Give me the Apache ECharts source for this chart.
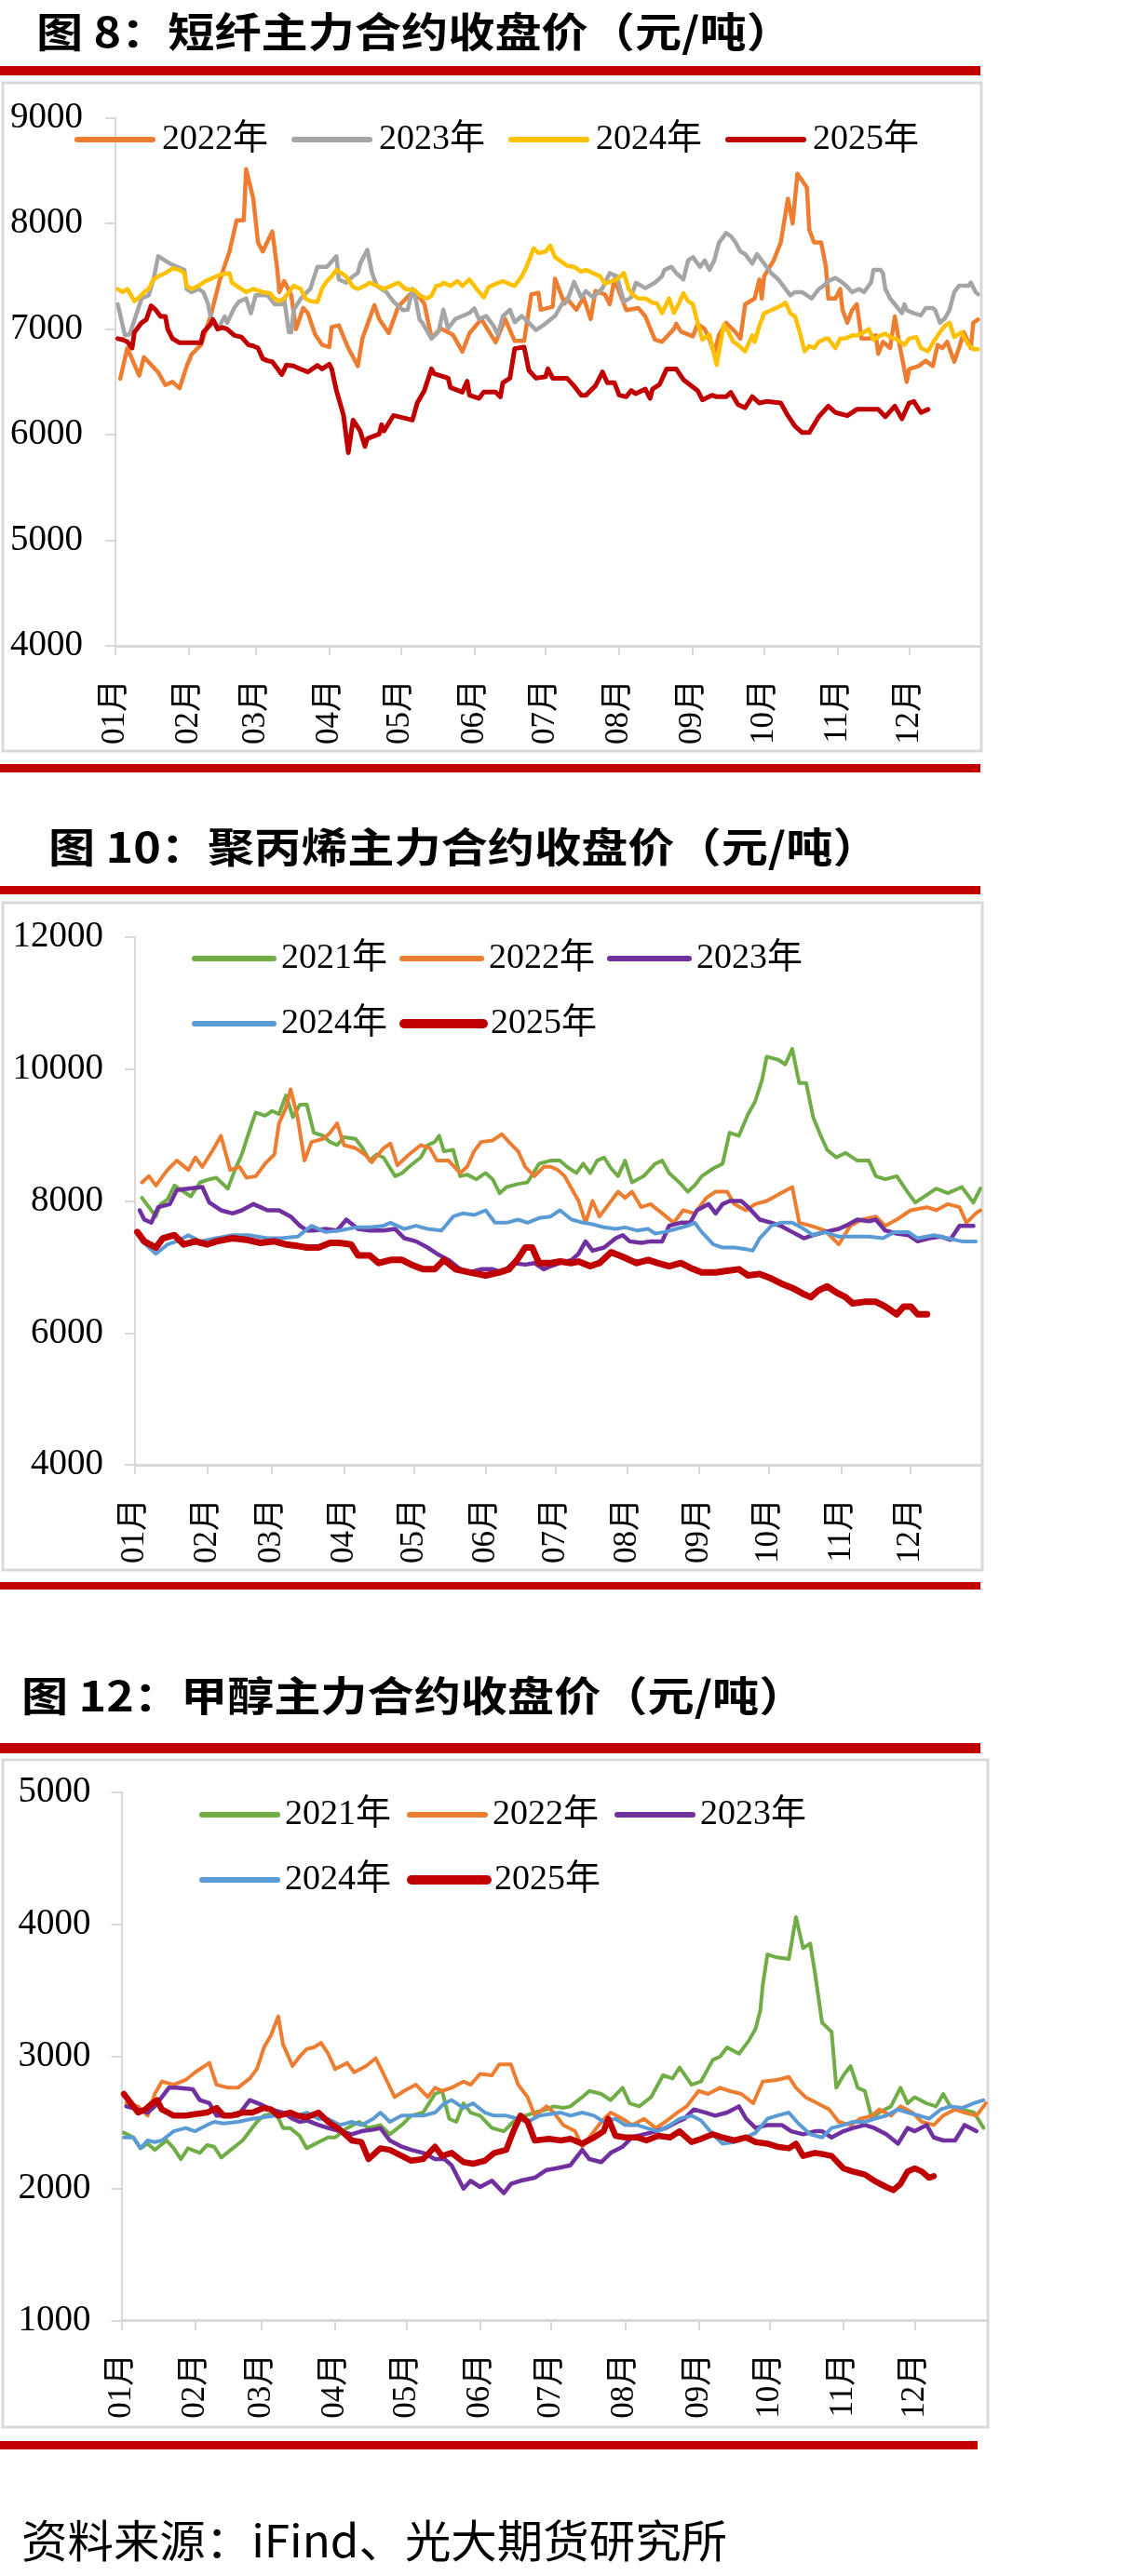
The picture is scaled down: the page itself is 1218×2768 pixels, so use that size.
<!DOCTYPE html>
<html>
<head>
<meta charset="utf-8">
<script src="https://cdn.jsdelivr.net/npm/echarts@6/dist/echarts.min.js"></script>
<style>
  html, body { margin: 0; padding: 0; background: #fff; }
  #page { width: 1218px; height: 2768px; }
</style>
</head>
<body>
<div id="page"></div>
<script>
// 月份（x轴按日排列，只在每月1日标注）
const monthNames = ['01', '02', '03', '04', '05', '06', '07', '08', '09', '10', '11', '12'];
const monthDays = [31, 28, 31, 30, 31, 30, 31, 31, 30, 31, 30, 31];

// 图8 短纤主力合约收盘价 [第几天, 价格]
const pf2022 = [[2,6530],[5,6820],[10,6560],[12,6735],[18,6590],[21,6470],[24,6500],[27,6440],[30,6650],[32,6760],[36,6850],[40,7120],[44,7470],[48,7735],[51,8030],[54,8030],[55,8515],[58,8235],[60,7820],[62,7735],[66,7925],[68,7590],[69,7350],[71,7455],[74,7320],[76,7000],[79,7200],[81,7150],[84,6950],[87,6850],[90,6830],[91,7020],[94,7035],[98,6820],[102,6650],[104,6918],[109,7227],[111,7095],[115,6962],[119,7212],[124,7329],[128,7300],[130,7241],[133,6918],[137,7006],[142,6947],[146,6786],[149,6962],[154,7095],[158,6947],[160,6874],[164,7095],[168,6888],[172,6888],[175,7329],[178,7344],[179,7183],[184,7212],[185,7476],[189,7241],[190,7290],[194,7183],[197,7300],[200,7095],[202,7359],[206,7329],[208,7235],[210,7470],[215,7180],[220,7200],[223,7120],[227,6900],[230,6880],[235,7000],[236,7050],[238,6976],[243,6932],[245,7050],[248,7000],[250,6903],[252,6771],[254,6947],[257,7060],[261,6970],[263,6910],[265,7235],[269,7290],[271,7470],[272,7290],[273,7500],[277,7650],[280,7820],[283,8235],[285,8000],[287,8470],[291,8340],[292,7940],[294,7820],[297,7820],[299,7590],[300,7290],[303,7290],[305,7380],[306,7180],[308,7060],[310,7180],[312,7235],[314,6910],[317,6910],[320,6940],[321,6765],[323,6880],[326,6820],[328,7120],[330,6850],[333,6500],[334,6620],[338,6650],[341,6700],[344,6650],[346,6850],[348,6820],[350,6880],[353,6690],[355,6820],[357,6970],[360,6820],[361,7060],[363,7090]];
const pf2023 = [[1,7235],[4,6940],[6,6950],[11,7290],[14,7320],[16,7470],[18,7690],[23,7620],[29,7560],[30,7380],[32,7350],[35,7380],[37,7350],[39,7235],[40,7120],[42,7060],[43,7000],[46,7120],[47,7060],[50,7200],[52,7260],[55,7290],[57,7150],[59,7320],[64,7320],[67,7235],[70,7235],[71,7290],[73,6970],[74,6970],[75,7180],[78,7290],[81,7359],[82,7380],[85,7590],[89,7590],[93,7690],[94,7470],[97,7440],[100,7500],[102,7530],[103,7620],[106,7750],[108,7530],[110,7410],[114,7350],[117,7260],[121,7180],[123,7183],[125,7380],[126,7329],[128,7090],[129,7065],[133,6910],[136,6976],[138,7183],[140,7006],[143,7095],[146,7124],[149,7153],[151,7197],[153,7095],[156,7124],[159,7035],[161,6947],[163,7120],[166,7183],[168,7065],[171,7124],[174,7060],[177,6991],[180,7035],[183,7090],[185,7124],[188,7241],[190,7260],[193,7447],[196,7300],[198,7359],[201,7300],[205,7388],[208,7530],[211,7500],[214,7260],[217,7300],[219,7440],[223,7388],[227,7440],[230,7500],[231,7560],[234,7590],[236,7530],[239,7470],[241,7650],[243,7680],[246,7590],[248,7650],[250,7560],[252,7650],[254,7820],[257,7910],[259,7880],[261,7820],[263,7735],[265,7710],[268,7620],[270,7710],[273,7620],[276,7530],[279,7470],[281,7410],[284,7320],[286,7350],[289,7350],[291,7320],[293,7290],[296,7380],[298,7410],[300,7455],[303,7485],[306,7440],[308,7400],[310,7350],[313,7380],[315,7350],[318,7440],[319,7560],[322,7560],[323,7530],[324,7380],[326,7290],[328,7235],[331,7150],[332,7235],[333,7180],[336,7150],[339,7130],[341,7200],[344,7200],[345,7180],[347,7060],[349,7100],[351,7180],[353,7350],[355,7410],[359,7410],[360,7440],[362,7350],[363,7330]];
const pf2024 = [[1,7380],[3,7350],[5,7380],[8,7265],[10,7300],[12,7350],[14,7380],[16,7470],[18,7500],[21,7530],[24,7575],[27,7560],[29,7530],[30,7410],[32,7380],[35,7410],[38,7455],[41,7485],[44,7515],[48,7530],[49,7440],[52,7395],[55,7350],[58,7380],[62,7350],[65,7340],[67,7290],[69,7265],[71,7290],[73,7350],[75,7410],[78,7380],[80,7290],[82,7265],[85,7256],[87,7388],[89,7455],[91,7500],[93,7560],[95,7530],[97,7500],[100,7400],[102,7380],[105,7410],[107,7440],[110,7410],[113,7380],[116,7410],[119,7440],[122,7380],[124,7374],[126,7370],[128,7320],[131,7290],[133,7315],[135,7410],[137,7418],[138,7440],[141,7410],[144,7455],[146,7410],[149,7470],[152,7380],[155,7300],[157,7395],[159,7418],[163,7455],[166,7425],[168,7410],[171,7500],[173,7590],[176,7765],[178,7720],[181,7735],[183,7790],[185,7680],[187,7650],[190,7600],[193,7590],[196,7545],[198,7560],[201,7530],[204,7500],[206,7430],[209,7455],[211,7470],[214,7530],[216,7380],[218,7320],[220,7290],[223,7290],[226,7250],[228,7241],[230,7150],[233,7290],[235,7153],[237,7235],[239,7340],[241,7265],[243,7235],[245,7060],[247,6900],[250,6947],[253,6660],[256,7040],[258,6970],[260,6880],[262,6850],[265,6790],[268,6940],[269,6880],[271,7030],[273,7150],[276,7180],[280,7220],[282,7250],[284,7150],[286,7120],[288,6970],[290,6790],[292,6840],[294,6820],[296,6880],[299,6910],[300,6910],[303,6820],[305,6910],[307,6910],[310,6940],[312,6940],[315,6970],[317,7000],[319,6900],[322,6940],[324,6955],[326,6925],[329,6900],[332,6850],[334,6910],[337,6925],[339,6820],[342,6790],[344,6870],[347,6970],[349,7030],[351,7060],[353,6925],[356,6970],[359,6850],[361,6810],[363,6810]];
const pf2025 = [[1,6910],[3,6900],[5,6880],[7,6820],[8,6970],[11,7060],[13,7090],[15,7220],[17,7180],[19,7120],[21,7120],[22,7000],[24,6910],[27,6870],[30,6870],[36,6870],[37,6970],[40,7045],[41,7090],[43,7000],[45,7015],[47,7000],[50,6940],[53,6925],[56,6850],[58,6840],[60,6820],[62,6720],[64,6700],[66,6690],[68,6630],[70,6570],[72,6660],[75,6650],[78,6620],[81,6594],[85,6656],[87,6623],[90,6668],[91,6623],[93,6418],[96,6182],[98,5830],[100,6138],[103,6035],[105,5888],[106,5962],[111,6006],[112,6094],[113,6035],[117,6182],[125,6138],[127,6300],[130,6418],[133,6623],[134,6580],[140,6535],[141,6447],[146,6403],[148,6506],[149,6374],[153,6344],[155,6403],[160,6403],[162,6359],[163,6491],[166,6535],[168,6815],[172,6830],[174,6609],[177,6535],[181,6550],[182,6623],[184,6535],[190,6535],[193,6462],[196,6374],[198,6374],[202,6462],[205,6594],[207,6491],[210,6491],[212,6374],[215,6359],[217,6418],[219,6388],[223,6432],[225,6344],[226,6432],[229,6476],[232,6623],[236,6623],[239,6521],[245,6418],[247,6330],[251,6374],[253,6359],[257,6359],[259,6400],[262,6285],[265,6255],[268,6360],[271,6300],[274,6315],[280,6300],[283,6180],[286,6080],[289,6020],[292,6020],[296,6170],[300,6270],[303,6210],[308,6180],[312,6240],[317,6240],[321,6240],[324,6170],[328,6270],[331,6150],[334,6300],[336,6315],[339,6210],[342,6240]];

// 图10 聚丙烯主力合约收盘价
const pp2021 = [[3,8047],[7,7859],[9,7765],[11,7953],[14,8024],[17,8235],[21,8141],[24,8070],[28,8282],[32,8329],[35,8353],[40,8188],[43,8471],[46,8706],[49,9035],[52,9341],[56,9294],[59,9365],[62,9318],[65,9600],[68,9271],[71,9459],[74,9459],[77,9035],[81,8988],[84,8894],[87,8847],[90,8965],[95,8941],[98,8800],[101,8612],[104,8706],[107,8659],[112,8376],[115,8424],[118,8518],[123,8659],[126,8847],[129,8894],[131,8988],[133,8753],[137,8776],[140,8376],[143,8400],[147,8329],[151,8424],[154,8329],[157,8118],[160,8212],[165,8259],[169,8282],[174,8565],[179,8612],[183,8612],[186,8518],[190,8424],[193,8565],[196,8424],[199,8612],[202,8659],[205,8494],[208,8376],[211,8612],[214,8282],[219,8376],[224,8565],[227,8612],[230,8424],[235,8259],[238,8141],[241,8235],[244,8376],[249,8494],[253,8565],[256,9035],[260,8988],[264,9318],[267,9506],[270,9835],[272,10188],[277,10141],[280,10071],[283,10306],[286,9788],[289,9788],[292,9271],[295,9012],[298,8776],[302,8659],[306,8729],[311,8612],[316,8612],[319,8376],[323,8329],[328,8376],[333,8118],[336,7976],[341,8094],[345,8188],[350,8118],[356,8212],[361,7976],[364,8188]];
const pp2022 = [[3,8282],[6,8376],[9,8235],[14,8471],[18,8612],[23,8471],[26,8659],[29,8518],[34,8800],[37,8988],[41,8471],[45,8518],[48,8353],[52,8376],[56,8565],[60,8706],[62,9176],[65,9412],[67,9694],[70,9271],[73,8612],[76,8894],[81,8941],[84,9035],[87,9176],[90,8847],[95,8800],[99,8706],[102,8588],[107,8800],[110,8871],[113,8541],[118,8706],[123,8847],[127,8800],[130,8612],[135,8612],[140,8424],[143,8518],[146,8753],[149,8894],[154,8918],[158,9012],[161,8894],[165,8753],[168,8518],[172,8376],[176,8518],[179,8518],[182,8471],[185,8376],[188,8188],[191,8000],[194,7671],[197,8000],[200,7765],[204,7953],[208,8141],[211,8047],[214,8141],[218,7906],[222,7953],[227,7812],[232,7671],[236,7859],[241,7812],[246,8047],[250,8141],[255,8141],[258,7953],[263,7859],[267,7953],[272,8000],[278,8118],[283,8212],[286,7671],[291,7624],[297,7553],[303,7341],[308,7624],[313,7718],[319,7765],[323,7624],[328,7718],[334,7859],[341,7906],[345,7859],[350,7953],[355,7906],[358,7671],[362,7812],[364,7859]];
const pp2023 = [[2,7859],[4,7718],[7,7671],[10,7906],[15,7953],[18,8165],[23,8188],[29,8212],[32,7976],[37,7859],[42,7812],[46,7859],[51,7953],[54,7906],[57,7859],[62,7859],[67,7765],[71,7624],[74,7553],[77,7553],[82,7576],[87,7553],[91,7718],[96,7576],[101,7553],[107,7553],[112,7576],[116,7435],[121,7388],[126,7294],[130,7200],[135,7106],[140,6965],[144,6918],[149,6965],[154,6965],[158,6918],[163,7059],[168,7035],[172,7059],[176,6965],[179,7012],[183,7059],[188,7106],[191,7200],[194,7388],[197,7247],[202,7294],[207,7435],[210,7482],[213,7388],[218,7365],[222,7388],[227,7388],[230,7624],[235,7671],[239,7671],[242,7859],[247,7953],[250,7812],[253,7953],[256,8000],[261,8000],[264,7906],[269,7718],[274,7671],[278,7624],[283,7529],[288,7435],[292,7482],[297,7529],[303,7576],[306,7624],[311,7718],[316,7694],[319,7718],[323,7553],[328,7506],[333,7482],[337,7388],[342,7435],[347,7459],[351,7412],[355,7624],[361,7624]];
const pp2024 = [[3,7388],[9,7200],[14,7341],[18,7388],[23,7482],[28,7388],[35,7435],[42,7482],[49,7482],[57,7435],[63,7435],[70,7459],[76,7624],[82,7529],[88,7553],[95,7600],[101,7600],[107,7624],[110,7671],[116,7576],[121,7624],[126,7576],[132,7553],[137,7765],[141,7812],[146,7788],[151,7859],[155,7671],[160,7671],[165,7718],[169,7671],[174,7741],[179,7765],[183,7859],[188,7718],[193,7671],[197,7647],[202,7600],[207,7576],[211,7600],[216,7553],[221,7576],[224,7506],[228,7529],[233,7576],[238,7624],[241,7671],[244,7529],[249,7341],[253,7294],[258,7294],[263,7271],[266,7247],[269,7435],[274,7624],[278,7671],[283,7671],[288,7576],[292,7482],[297,7529],[303,7459],[309,7459],[316,7459],[322,7435],[327,7529],[333,7529],[337,7435],[344,7482],[350,7435],[356,7388],[362,7388]];
const pp2025 = [[1,7529],[4,7388],[9,7294],[12,7435],[17,7482],[21,7341],[26,7388],[31,7341],[35,7388],[42,7435],[48,7412],[54,7365],[60,7388],[65,7341],[70,7318],[74,7294],[79,7294],[84,7365],[88,7365],[93,7341],[96,7176],[101,7176],[105,7059],[110,7106],[115,7106],[119,7035],[124,6965],[129,6965],[133,7106],[138,6965],[144,6918],[151,6871],[157,6918],[161,6965],[165,7129],[168,7294],[171,7294],[174,7059],[179,7059],[183,7082],[188,7059],[191,7082],[196,7012],[200,7059],[205,7224],[210,7153],[216,7059],[221,7106],[225,7059],[230,7012],[235,7059],[239,6988],[244,6918],[250,6918],[255,6941],[260,6965],[264,6871],[269,6894],[274,6824],[278,6753],[283,6682],[288,6588],[291,6541],[294,6635],[298,6706],[302,6612],[306,6541],[309,6447],[314,6471],[319,6471],[323,6400],[328,6282],[331,6400],[334,6400],[337,6282],[341,6282]];

// 图12 甲醇主力合约收盘价
const ma2021 = [[1,2423],[5,2387],[8,2305],[11,2340],[14,2293],[19,2364],[22,2305],[25,2223],[28,2305],[33,2270],[36,2329],[39,2317],[42,2235],[46,2293],[51,2364],[54,2434],[57,2505],[60,2552],[65,2575],[68,2458],[71,2458],[75,2399],[78,2305],[83,2352],[87,2387],[90,2387],[95,2458],[100,2505],[104,2458],[109,2481],[113,2411],[118,2481],[122,2552],[127,2575],[132,2716],[135,2739],[138,2528],[141,2505],[144,2645],[147,2575],[151,2552],[156,2458],[161,2434],[165,2505],[170,2552],[174,2575],[179,2599],[182,2622],[186,2610],[189,2622],[194,2692],[197,2739],[202,2716],[206,2669],[211,2763],[214,2645],[218,2622],[223,2692],[228,2857],[232,2833],[235,2916],[240,2786],[244,2810],[249,2974],[252,2998],[255,3068],[260,3021],[264,3115],[267,3209],[269,3350],[270,3538],[272,3772],[276,3749],[281,3737],[284,4054],[287,3819],[290,3854],[292,3631],[295,3256],[299,3185],[301,2763],[304,2857],[307,2927],[310,2763],[313,2739],[316,2528],[319,2575],[324,2622],[328,2763],[331,2645],[334,2692],[339,2645],[343,2622],[346,2716],[349,2622],[354,2599],[359,2575],[363,2458]];
const ma2022 = [[2,2646],[7,2622],[11,2552],[14,2716],[17,2810],[22,2786],[27,2822],[31,2880],[37,2951],[40,2786],[45,2763],[49,2763],[54,2833],[57,2904],[60,3068],[63,3162],[66,3303],[68,3092],[72,2927],[75,2998],[78,3056],[81,3068],[84,3103],[87,3021],[90,2904],[95,2951],[98,2880],[103,2927],[107,2986],[110,2880],[115,2692],[119,2739],[124,2786],[129,2692],[132,2763],[135,2739],[139,2763],[144,2810],[147,2786],[151,2868],[156,2857],[159,2939],[164,2939],[167,2786],[171,2692],[174,2552],[179,2622],[182,2575],[186,2481],[191,2434],[194,2317],[197,2387],[202,2505],[206,2575],[211,2528],[215,2481],[220,2528],[225,2458],[229,2505],[234,2575],[238,2622],[243,2739],[247,2716],[252,2763],[256,2739],[261,2716],[266,2646],[270,2810],[276,2822],[281,2845],[284,2763],[288,2692],[293,2646],[298,2599],[302,2505],[307,2481],[311,2528],[316,2552],[319,2599],[324,2552],[328,2622],[333,2575],[337,2505],[342,2481],[346,2552],[351,2599],[355,2575],[360,2552],[364,2646]];
const ma2023 = [[2,2622],[7,2599],[11,2575],[14,2622],[17,2692],[20,2763],[23,2763],[30,2751],[33,2669],[37,2646],[40,2552],[45,2552],[49,2552],[54,2669],[59,2634],[63,2599],[68,2575],[72,2528],[75,2505],[78,2516],[83,2481],[87,2458],[92,2434],[97,2411],[101,2434],[106,2446],[109,2458],[113,2364],[118,2317],[122,2293],[127,2270],[132,2223],[136,2223],[139,2176],[144,2000],[147,2059],[151,2012],[156,2059],[161,1965],[164,2035],[168,2059],[174,2082],[179,2141],[183,2153],[189,2176],[194,2293],[197,2223],[202,2200],[206,2270],[211,2317],[215,2387],[220,2411],[225,2434],[229,2458],[234,2505],[237,2528],[241,2599],[246,2575],[250,2552],[255,2575],[260,2622],[263,2528],[267,2458],[272,2481],[278,2481],[282,2434],[287,2411],[292,2434],[295,2434],[299,2387],[304,2434],[308,2458],[313,2481],[317,2458],[322,2411],[327,2340],[331,2458],[334,2434],[339,2481],[342,2387],[346,2364],[351,2364],[355,2481],[360,2434]];
const ma2024 = [[1,2387],[5,2387],[8,2305],[11,2364],[14,2352],[17,2364],[22,2434],[27,2458],[31,2434],[36,2481],[39,2505],[43,2493],[49,2505],[55,2528],[60,2540],[65,2552],[69,2575],[74,2552],[78,2575],[83,2528],[87,2528],[92,2481],[97,2505],[101,2481],[106,2528],[109,2575],[113,2505],[118,2552],[122,2552],[127,2552],[132,2575],[136,2646],[139,2669],[144,2610],[148,2646],[153,2575],[157,2552],[162,2552],[167,2528],[171,2505],[176,2552],[180,2563],[185,2575],[189,2552],[194,2575],[199,2552],[203,2505],[208,2528],[212,2481],[217,2481],[221,2458],[226,2434],[231,2481],[235,2528],[240,2552],[244,2516],[249,2411],[253,2340],[258,2352],[263,2387],[267,2423],[272,2528],[276,2552],[281,2575],[285,2493],[290,2411],[295,2387],[299,2458],[304,2481],[308,2505],[313,2505],[317,2528],[322,2552],[327,2599],[331,2575],[336,2552],[340,2528],[345,2599],[349,2622],[354,2610],[359,2646],[363,2669]];
const ma2025 = [[1,2716],[4,2646],[7,2575],[10,2599],[13,2646],[15,2669],[17,2599],[22,2552],[27,2552],[31,2563],[36,2575],[40,2610],[43,2552],[46,2552],[51,2575],[55,2575],[60,2610],[63,2599],[66,2552],[71,2575],[74,2552],[78,2540],[83,2575],[87,2505],[92,2446],[97,2364],[101,2352],[104,2223],[109,2305],[113,2293],[118,2247],[122,2211],[127,2223],[132,2317],[135,2247],[139,2270],[144,2200],[148,2188],[153,2211],[157,2270],[162,2293],[165,2434],[168,2552],[171,2505],[174,2364],[180,2376],[185,2364],[189,2376],[194,2340],[199,2387],[203,2434],[205,2528],[208,2399],[212,2387],[217,2387],[221,2364],[226,2399],[231,2387],[235,2434],[240,2352],[244,2376],[249,2411],[253,2387],[258,2364],[263,2387],[267,2352],[272,2340],[276,2317],[281,2305],[284,2340],[287,2247],[292,2270],[296,2258],[299,2247],[304,2153],[308,2129],[313,2106],[317,2059],[322,2012],[325,1988],[328,2035],[331,2129],[334,2153],[337,2129],[340,2082],[342,2094]];

// 日期类目
const days = [];
const monthStart = new Set();
monthNames.forEach((m, i) => {
    monthStart.add(days.length);
    for (let d = 1; d <= monthDays[i]; d++) {
        days.push(m + '-' + (d < 10 ? '0' + d : d));
    }
});

const SERIF = "'Liberation Serif', 'Noto Sans CJK SC', serif";
const RED = '#C00000';
const GRAY = '#D9D9D9';

function xAxisOf(gi, margin) {
    return {
        type: 'category', gridIndex: gi, data: days, boundaryGap: false,
        axisLine: { lineStyle: { color: GRAY, width: 3 } },
        axisTick: { show: true, length: 10, interval: (i) => monthStart.has(i), lineStyle: { color: GRAY, width: 2 } },
        axisLabel: {
            interval: (i) => monthStart.has(i), rotate: 90, margin: margin,
            formatter: (v) => v.slice(0, 2) + '月',
            fontFamily: SERIF, fontSize: 35, color: '#000'
        },
        splitLine: { show: false }
    };
}

function yAxisOf(gi, min, max, interval, margin) {
    return {
        type: 'value', gridIndex: gi, min: min, max: max, interval: interval,
        axisLine: { show: true, lineStyle: { color: GRAY, width: 2 } },
        axisTick: { show: true, length: 11, lineStyle: { color: GRAY, width: 2 } },
        axisLabel: { margin: margin, fontFamily: SERIF, fontSize: 39, color: '#000', formatter: (v) => String(v) },
        splitLine: { show: false }
    };
}

function line(key, label, data, color, width, gi) {
    return {
        name: key + '|' + label, type: 'line', xAxisIndex: gi, yAxisIndex: gi,
        data: data, symbol: 'none', showSymbol: false, silent: true,
        lineStyle: { color: color, width: width, cap: 'round', join: 'round' },
        itemStyle: { color: color }
    };
}

// 图例：普通项 6px 粗，2025年（图10/12）更粗
function legendOf(names, left, top, itemWidth, gap, pad, thick) {
    return {
        data: names.map((n) => ({
            name: n,
            lineStyle: { width: (thick && n.indexOf('2025') >= 0) ? 10 : 6, cap: 'round' }
        })),
        left: left, top: top, padding: 0,
        itemWidth: itemWidth, itemHeight: 10, itemGap: gap,
        formatter: (n) => n.split('|')[1],
        textStyle: { fontFamily: SERIF, fontSize: 38, color: '#000', lineHeight: 40, padding: [0, 0, 0, pad] },
        itemStyle: { opacity: 0 },
        lineStyle: { width: 6, cap: 'round' },
        selectedMode: false
    };
}

function title(text, x, y, size, weight, sx) {
    return {
        type: 'text', x: x, y: y, scaleX: sx, silent: true,
        style: { text: text, fill: '#000', fontSize: size, fontWeight: weight, fontFamily: "'Noto Sans CJK SC', sans-serif", verticalAlign: 'middle' }
    };
}

function bar(y, h, w) {
    return { type: 'rect', silent: true, shape: { x: 0, y: y, width: w, height: h }, style: { fill: RED } };
}

function box(x, y, w, h) {
    return { type: 'rect', silent: true, z: -1, shape: { x: x, y: y, width: w, height: h }, style: { fill: 'none', stroke: GRAY, lineWidth: 3 } };
}

var myChart = echarts.init(document.getElementById('page'), null, { renderer: 'canvas', width: 1218, height: 2768 });

var option = {
    animation: false,
    backgroundColor: '#fff',
    grid: [
        { left: 124, top: 126.7, width: 929, height: 567.3 },
        { left: 145, top: 1007, width: 908, height: 567 },
        { left: 130.5, top: 1925.7, width: 928.5, height: 568 }
    ],
    xAxis: [xAxisOf(0, 36), xAxisOf(1, 36), xAxisOf(2, 35)],
    yAxis: [
        yAxisOf(0, 4000, 9000, 1000, 35),
        yAxisOf(1, 4000, 12000, 2000, 34),
        yAxisOf(2, 1000, 5000, 1000, 33)
    ],
    legend: [
        legendOf(['pf|2022年', 'pf|2023年', 'pf|2024年', 'pf|2025年'], 80, 130, 81, 25, 5, false),
        legendOf(['pp|2021年', 'pp|2022年', 'pp|2023年'], 206, 1010, 85, 13, 3, true),
        legendOf(['pp|2024年', 'pp|2025年'], 206, 1080, 85, 13, 3, true),
        legendOf(['ma|2021年', 'ma|2022年', 'ma|2023年'], 214, 1930, 81, 17, 3, true),
        legendOf(['ma|2024年', 'ma|2025年'], 214, 2000, 81, 17, 3, true)
    ],
    series: [
        line('pf', '2022年', pf2022, '#ED7D31', 4.5, 0),
        line('pf', '2023年', pf2023, '#A5A5A5', 4.5, 0),
        line('pf', '2024年', pf2024, '#FFC000', 4.5, 0),
        line('pf', '2025年', pf2025, RED, 5, 0),
        line('pp', '2021年', pp2021, '#70AD47', 4, 1),
        line('pp', '2022年', pp2022, '#ED7D31', 4, 1),
        line('pp', '2023年', pp2023, '#7030A0', 4.5, 1),
        line('pp', '2024年', pp2024, '#5B9BD5', 4, 1),
        line('pp', '2025年', pp2025, RED, 7, 1),
        line('ma', '2021年', ma2021, '#70AD47', 4, 2),
        line('ma', '2022年', ma2022, '#ED7D31', 4, 2),
        line('ma', '2023年', ma2023, '#7030A0', 4.5, 2),
        line('ma', '2024年', ma2024, '#5B9BD5', 4, 2),
        line('ma', '2025年', ma2025, RED, 6.5, 2)
    ],
    graphic: [
        title('图 8：短纤主力合约收盘价（元/吨）', 39, 34, 44, 'bold', 1.14),
        bar(71, 10, 1053),
        box(3, 89, 1051, 718),
        bar(821, 9, 1053),
        title('图 10：聚丙烯主力合约收盘价（元/吨）', 52, 910, 44, 'bold', 1.14),
        bar(952, 9, 1053),
        box(3, 970, 1052, 717),
        bar(1700, 8, 1053),
        title('图 12：甲醇主力合约收盘价（元/吨）', 23, 1822, 44, 'bold', 1.14),
        bar(1873, 11, 1053),
        box(3, 1891, 1058, 717),
        bar(2623, 9, 1050),
        title('资料来源：iFind、光大期货研究所', 23, 2730, 48, 'normal', 1.03)
    ]
};

myChart.setOption(option);
</script>
</body>
</html>
